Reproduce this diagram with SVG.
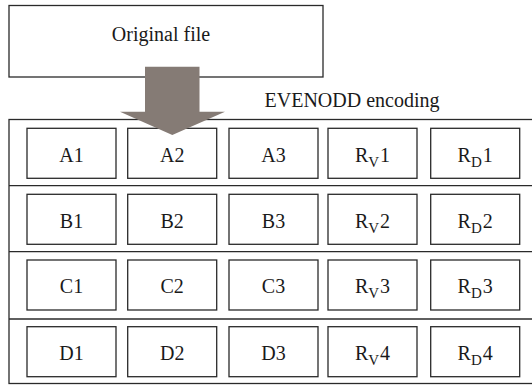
<svg xmlns="http://www.w3.org/2000/svg" width="532" height="385" viewBox="0 0 532 385">
  <style>
    .box { fill: #ffffff; stroke: #2a2a2a; stroke-width: 1.3; }
    .frame { fill: none; stroke: #2a2a2a; stroke-width: 1.3; }
    .lbl { font-family: "Liberation Serif", "Times New Roman", serif; font-size: 20px; fill: #1a1a1a; text-anchor: middle; }
    .sub { font-size: 15px; }
  </style>
  <rect width="532" height="385" fill="#ffffff"/>

  <g id="original-file">
    <rect class="box" x="9" y="5.5" width="314" height="71.5"/>
    <text class="lbl" x="161" y="41">Original file</text>
  </g>

  <g id="evenodd-frame">
    <text class="lbl" x="352" y="107">EVENODD encoding</text>
    <rect class="frame" x="9" y="119.5" width="530" height="264"/>
    <line class="frame" x1="9" y1="185.7" x2="532" y2="185.7"/>
    <line class="frame" x1="9" y1="251.7" x2="532" y2="251.7"/>
    <line class="frame" x1="9" y1="319" x2="532" y2="319"/>
  </g>

  <!-- row A -->
  <g id="A1"><rect class="box" x="27" y="128.3" width="89" height="50"/><text class="lbl" x="71.5" y="161.5">A1</text></g>
  <g id="A2"><rect class="box" x="127.7" y="128.3" width="89" height="50"/><text class="lbl" x="172.2" y="161.5">A2</text></g>
  <g id="A3"><rect class="box" x="229" y="128.3" width="89" height="50"/><text class="lbl" x="273.5" y="161.5">A3</text></g>
  <g id="RV1"><rect class="box" x="328" y="128.3" width="89" height="50"/><text class="lbl" x="372.5" y="161.5">R<tspan class="sub" dy="5">V</tspan><tspan dy="-5" dx="1">1</tspan></text></g>
  <g id="RD1"><rect class="box" x="430.7" y="128.3" width="89" height="50"/><text class="lbl" x="475.2" y="161.5">R<tspan class="sub" dy="5">D</tspan><tspan dy="-5" dx="1">1</tspan></text></g>

  <!-- row B -->
  <g id="B1"><rect class="box" x="27" y="194.3" width="89" height="50"/><text class="lbl" x="71.5" y="227.5">B1</text></g>
  <g id="B2"><rect class="box" x="127.7" y="194.3" width="89" height="50"/><text class="lbl" x="172.2" y="227.5">B2</text></g>
  <g id="B3"><rect class="box" x="229" y="194.3" width="89" height="50"/><text class="lbl" x="273.5" y="227.5">B3</text></g>
  <g id="RV2"><rect class="box" x="328" y="194.3" width="89" height="50"/><text class="lbl" x="372.5" y="227.5">R<tspan class="sub" dy="5">V</tspan><tspan dy="-5" dx="1">2</tspan></text></g>
  <g id="RD2"><rect class="box" x="430.7" y="194.3" width="89" height="50"/><text class="lbl" x="475.2" y="227.5">R<tspan class="sub" dy="5">D</tspan><tspan dy="-5" dx="1">2</tspan></text></g>

  <!-- row C -->
  <g id="C1"><rect class="box" x="27" y="260" width="89" height="50"/><text class="lbl" x="71.5" y="293">C1</text></g>
  <g id="C2"><rect class="box" x="127.7" y="260" width="89" height="50"/><text class="lbl" x="172.2" y="293">C2</text></g>
  <g id="C3"><rect class="box" x="229" y="260" width="89" height="50"/><text class="lbl" x="273.5" y="293">C3</text></g>
  <g id="RV3"><rect class="box" x="328" y="260" width="89" height="50"/><text class="lbl" x="372.5" y="293">R<tspan class="sub" dy="5">V</tspan><tspan dy="-5" dx="1">3</tspan></text></g>
  <g id="RD3"><rect class="box" x="430.7" y="260" width="89" height="50"/><text class="lbl" x="475.2" y="293">R<tspan class="sub" dy="5">D</tspan><tspan dy="-5" dx="1">3</tspan></text></g>

  <!-- row D -->
  <g id="D1"><rect class="box" x="27" y="326.7" width="89" height="50"/><text class="lbl" x="71.5" y="359.5">D1</text></g>
  <g id="D2"><rect class="box" x="127.7" y="326.7" width="89" height="50"/><text class="lbl" x="172.2" y="359.5">D2</text></g>
  <g id="D3"><rect class="box" x="229" y="326.7" width="89" height="50"/><text class="lbl" x="273.5" y="359.5">D3</text></g>
  <g id="RV4"><rect class="box" x="328" y="326.7" width="89" height="50"/><text class="lbl" x="372.5" y="359.5">R<tspan class="sub" dy="5">V</tspan><tspan dy="-5" dx="1">4</tspan></text></g>
  <g id="RD4"><rect class="box" x="430.7" y="326.7" width="89" height="50"/><text class="lbl" x="475.2" y="359.5">R<tspan class="sub" dy="5">D</tspan><tspan dy="-5" dx="1">4</tspan></text></g>

  <g id="connectors">
    <!-- block arrow from the original file down into the encoding -->
    <polygon fill="#857b75" points="145,66.7 199.5,66.7 199.5,111.7 225,111.7 172.3,135 120,111.7 145,111.7"/>
  </g>
</svg>
